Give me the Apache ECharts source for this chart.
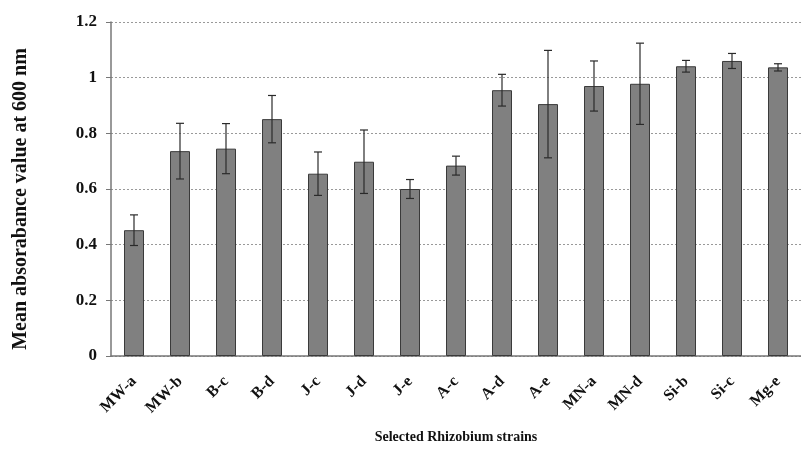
<!DOCTYPE html>
<html>
<head>
    <meta charset="utf-8">
    <title>Rhizobium absorbance</title>
    <script src="https://cdn.jsdelivr.net/npm/echarts@6/dist/echarts.min.js"></script>
    <style>
        html, body { margin: 0; padding: 0; background: #fff; }
        #main { width: 801px; height: 449px; }
    </style>
</head>
<body>
    <div id="main"></div>
    <script type="text/javascript">
        // strains and readings (mean OD600 and error)
        var strains = ['MW-a', 'MW-b', 'B-c', 'B-d', 'J-c', 'J-d', 'J-e', 'A-c', 'A-d', 'A-e', 'MN-a', 'MN-d', 'Si-b', 'Si-c', 'Mg-e'];
        var means = [0.452, 0.736, 0.745, 0.851, 0.655, 0.698, 0.600, 0.684, 0.955, 0.905, 0.970, 0.978, 1.041, 1.060, 1.037];
        var errors = [0.055, 0.100, 0.090, 0.085, 0.078, 0.114, 0.034, 0.034, 0.057, 0.193, 0.090, 0.146, 0.021, 0.027, 0.013];
        var yTicks = [0, 0.2, 0.4, 0.6, 0.8, 1, 1.2];

        var font = '"Liberation Serif", "Times New Roman", serif';

        var errData = strains.map(function (s, i) {
            return [i, means[i] - errors[i], means[i] + errors[i]];
        });

        var myChart = echarts.init(document.getElementById('main'), null, { renderer: 'canvas' });

        var option = {
            animation: false,
            grid: { left: 111, right: -10, top: 22, bottom: 92 },
            xAxis: {
                type: 'category',
                data: strains,
                name: 'Selected Rhizobium strains',
                nameLocation: 'middle',
                nameGap: 74,
                nameTextStyle: { fontFamily: font, fontWeight: 'bold', fontSize: 14, color: '#111' },
                axisLine: { lineStyle: { color: '#777', width: 1.5 } },
                axisTick: { show: false },
                axisLabel: {
                    rotate: 45, fontFamily: font, fontWeight: 'bold', fontSize: 16, color: '#111',
                    margin: 23, interval: 0
                }
            },
            yAxis: {
                type: 'value',
                min: yTicks[0],
                max: yTicks[yTicks.length - 1],
                interval: 0.2,
                name: 'Mean absorabance value at 600 nm',
                nameLocation: 'middle',
                nameGap: 80,
                nameTextStyle: {
                    fontFamily: font, fontWeight: 'bold', fontSize: 20, color: '#111',
                    padding: [0, 20, 0, 0]
                },
                axisLine: { show: true, lineStyle: { color: '#777', width: 1.5 } },
                axisTick: { show: true, length: 5, lineStyle: { color: '#777' } },
                axisLabel: {
                    fontFamily: font, fontWeight: 'bold', fontSize: 17, color: '#111', margin: 14,
                    formatter: function (v) { return String(Math.round(v * 10) / 10); }
                },
                splitLine: { lineStyle: { color: '#999', type: [2, 2], width: 1 } }
            },
            series: [{
                type: 'bar',
                data: means,
                barWidth: 20,
                itemStyle: { color: '#808080', borderColor: '#3a3a3a', borderWidth: 1 }
            }, {
                type: 'custom',
                data: errData,
                z: 5,
                renderItem: function (params, api) {
                    var x = api.value(0);
                    var lo = api.coord([x, api.value(1)]);
                    var hi = api.coord([x, api.value(2)]);
                    var cap = 4;
                    var st = { stroke: '#2a2a2a', lineWidth: 1.2 };
                    return {
                        type: 'group',
                        children: [
                            { type: 'line', shape: { x1: lo[0], y1: lo[1], x2: hi[0], y2: hi[1] }, style: st },
                            { type: 'line', shape: { x1: hi[0] - cap, y1: hi[1], x2: hi[0] + cap, y2: hi[1] }, style: st },
                            { type: 'line', shape: { x1: lo[0] - cap, y1: lo[1], x2: lo[0] + cap, y2: lo[1] }, style: st }
                        ]
                    };
                }
            }]
        };

        myChart.setOption(option);
    </script>
</body>
</html>
